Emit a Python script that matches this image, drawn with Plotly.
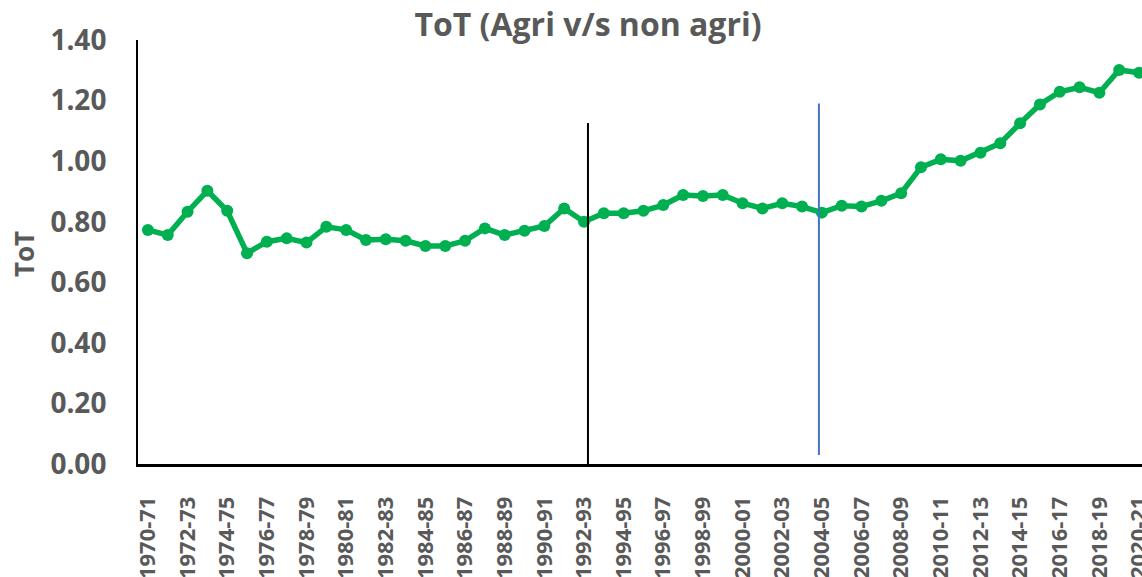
import plotly.graph_objects as go

categories = [f"{y}-{str(y + 1)[-2:]}" for y in range(1970, 2021)]
tot_values = [
    0.773, 0.756, 0.833, 0.902, 0.836, 0.696, 0.734, 0.745, 0.731, 0.783,
    0.773, 0.740, 0.742, 0.737, 0.720, 0.720, 0.737, 0.778, 0.756, 0.770,
    0.786, 0.844, 0.800, 0.828, 0.828, 0.836, 0.855, 0.888, 0.885, 0.888,
    0.861, 0.844, 0.861, 0.850, 0.830, 0.853, 0.850, 0.869, 0.894, 0.980,
    1.006, 1.001, 1.028, 1.059, 1.125, 1.187, 1.229, 1.244, 1.226, 1.301,
    1.292,
]
tick_labels = categories[::2]
y_ticks = [0.0, 0.2, 0.4, 0.6, 0.8, 1.0, 1.2, 1.4]

GRAY = "#595959"
FONT = "Open Sans"

fig = go.Figure()
fig.add_trace(go.Scatter(
    x=categories, y=tot_values, mode="lines+markers",
    line=dict(color="#00B050", width=5.5),
    marker=dict(color="#00B050", size=12),
    cliponaxis=False, showlegend=False,
))

i_9293 = categories.index("1992-93")
i_0405 = categories.index("2004-05")
fig.add_shape(type="line", xref="x", yref="y", x0=i_9293 + 0.2, x1=i_9293 + 0.2, y0=0, y1=1.126,
              line=dict(color="black", width=2))
fig.add_shape(type="line", xref="x", yref="y", x0=i_0405 - 0.15, x1=i_0405 - 0.15, y0=0.03, y1=1.19,
              line=dict(color="#4472C4", width=2))

fig.update_layout(
    width=1142, height=577,
    margin=dict(l=138, r=0, t=40, b=113, autoexpand=False),
    paper_bgcolor="white", plot_bgcolor="white",
    title=dict(text="<b>ToT (Agri v/s non agri)</b>", x=588 / 1142, xref="container", xanchor="center",
               y=1 - 25 / 577, yref="container", yanchor="middle", automargin=False,
               font=dict(family=FONT, size=32, color=GRAY)),
    font=dict(family=FONT, color=GRAY),
)
fig.update_xaxes(
    type="category", range=[-0.5, 50.15], automargin=False,
    tickmode="array", tickvals=tick_labels, ticktext=[f"<b>{t}</b>" for t in tick_labels],
    tickangle=-90, tickfont=dict(family=FONT, size=22, color=GRAY),
    showline=True, linecolor="black", linewidth=2.5, showgrid=False, ticks="",
    ticklabelstandoff=21, zeroline=False,
)
fig.update_yaxes(
    range=[0, 1.4], tickmode="array", tickvals=y_ticks, automargin=False,
    ticktext=[f"<b>{v:.2f}</b>" for v in y_ticks],
    tickfont=dict(family=FONT, size=28, color=GRAY),
    showline=True, linecolor="black", linewidth=2, showgrid=False, ticks="",
    ticklabelstandoff=24, zeroline=False,
)
fig.add_annotation(text="<b>ToT</b>", xref="paper", yref="paper", x=(24 - 138) / 1004, y=0.495,
                   xanchor="center", yanchor="middle", textangle=-90, showarrow=False,
                   font=dict(family=FONT, size=26, color=GRAY))

fig.write_html(
    "out.html",
    config={"displayModeBar": False},
    post_script="document.body.style.margin='0';document.body.style.overflow='hidden';",
)
